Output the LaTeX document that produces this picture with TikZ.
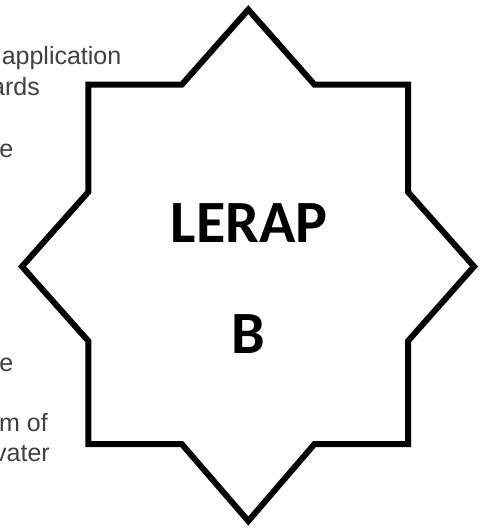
\documentclass[tikz,border=0pt]{standalone}
\usepackage{fontspec}
\setmainfont{Liberation Sans}
\newfontfamily\calib{Carlito}
\definecolor{bodygray}{RGB}{64,64,64}
\begin{document}
\begin{tikzpicture}[x=1pt,y=-1pt,
  bodytext/.style={anchor=base east, inner sep=0pt, text=bodygray, font=\fontsize{25}{30}\selectfont},
  bigtext/.style={anchor=base, inner sep=0pt, text=black, font=\calib\bfseries\fontsize{60}{72}\selectfont},
  starline/.style={draw=black, line width=6pt, fill=white, line join=miter, miter limit=10}]
\useasboundingbox (0,0) rectangle (486,528);
\clip (0,0) rectangle (486,528);
% text behind the star (left part cut off by the border)
\node[bodytext] (t1) at (121.5,64) {application};
\node[bodytext] (t2) at (40,95) {ards};
\node[bodytext] (t3) at (13.5,157) {e};
\node[bodytext] (t4) at (13.5,371) {e};
\node[bodytext] (t5) at (48,431) {m of};
\node[bodytext] (t6) at (50,461) {vater};
% eight-pointed star
\path[starline]
  (88.3,84.7) -- (181.7,84.7) -- (248.3,9.6) -- (314.5,84.7) -- (408,84.7)
  -- (408,192) -- (474,266.5) -- (408,341) -- (408,444)
  -- (314.5,444) -- (248.3,521) -- (181.7,444) -- (88.3,444)
  -- (88.3,341) -- (22,266.5) -- (88.3,192) -- cycle;
\node[bigtext] (lerap) at (249,242) {LERAP};
\node[bigtext] (b) at (248.5,353) {B};
\end{tikzpicture}
\end{document}
